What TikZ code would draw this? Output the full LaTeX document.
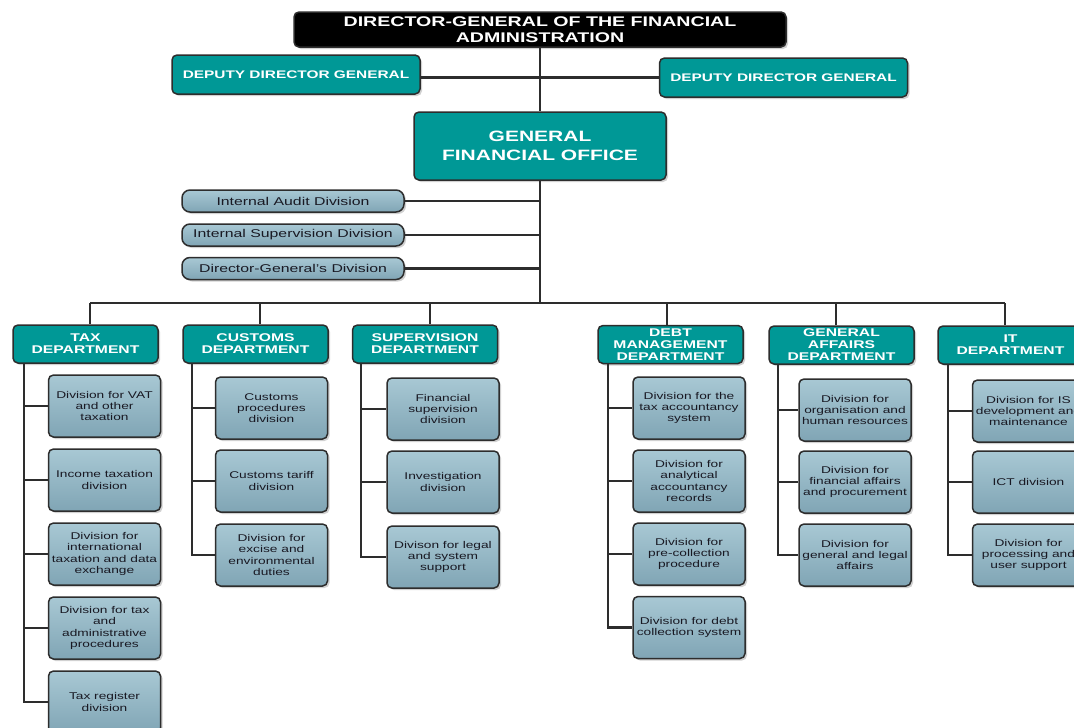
\documentclass[tikz,border=0pt]{standalone}
\usepackage{fontspec}
\setmainfont{Liberation Sans}[FakeStretch=1.4]
\usetikzlibrary{shadows}
\definecolor{tealC}{RGB}{0,152,150}
\definecolor{lineC}{RGB}{45,45,45}
\definecolor{edgeC}{RGB}{45,45,45}
\definecolor{divTop}{RGB}{168,200,212}
\definecolor{divBot}{RGB}{128,165,181}
\definecolor{txtC}{RGB}{25,25,35}
\begin{document}
\begin{tikzpicture}[x=1pt,y=-1pt,
  box/.style={draw=edgeC, line width=1.5pt, rounded corners=5pt, inner sep=0pt, align=center,
    drop shadow={shadow xshift=2pt, shadow yshift=-2pt, fill=black, opacity=0.18}},
  tealbox/.style={box, fill=tealC, text=white},
  dgbox/.style={box, fill=black, text=white, minimum width=492pt, minimum height=35pt,
    font=\bfseries\fontsize{14}{16}\selectfont},
  depbox/.style={tealbox, minimum width=248pt, minimum height=39pt, font=\bfseries\fontsize{11}{13}\selectfont},
  gfobox/.style={tealbox, minimum width=252pt, minimum height=68pt, font=\bfseries\fontsize{15}{19.5}\selectfont},
  smallbox/.style={box, rounded corners=8pt, top color=divTop, bottom color=divBot, text=txtC,
    minimum width=222pt, minimum height=22pt, font=\fontsize{11.3}{13}\selectfont},
  dept/.style={tealbox, minimum width=145pt, minimum height=38pt, font=\bfseries\fontsize{11.2}{12}\selectfont},
  divbox/.style={box, top color=divTop, bottom color=divBot, text=txtC,
    minimum width=112pt, minimum height=62pt, font=\fontsize{9.8}{11.2}\selectfont},
  conn/.style={draw=lineC, line width=2.2pt}
]
\useasboundingbox (0,0) rectangle (1074,728);
\fill[white] (0,0) rectangle (1074,728);
\clip (0,0) rectangle (1074,728);

% coordinates of the bus
\coordinate (busmid) at (540,303);
\coordinate (b1) at (90,303);
\coordinate (b2) at (260,303);
\coordinate (b3) at (430,303);
\coordinate (b4) at (667,303);
\coordinate (b5) at (836,303);
\coordinate (b6) at (1005,303);

% top nodes
\node[dgbox] (dg) at (540,29.5) {DIRECTOR-GENERAL OF THE FINANCIAL\\ADMINISTRATION};
\node[depbox] (depL) at (296,74.5) {DEPUTY DIRECTOR GENERAL};
\node[depbox] (depR) at (783.5,77.5) {DEPUTY DIRECTOR GENERAL};
\node[gfobox] (gfo) at (540,146) {GENERAL\\FINANCIAL OFFICE};

\node[smallbox] (ia) at (293,201) {Internal Audit Division};
\node[smallbox] (is) at (293,235) {Internal Supervision Division};
\node[smallbox] (dd) at (293,268.5) {Director-General's Division};

% departments
\node[dept] (tax) at (85.5,344) {TAX\\DEPARTMENT};
\node[dept] (cus) at (255.5,344) {CUSTOMS\\DEPARTMENT};
\node[dept] (sup) at (425,344) {SUPERVISION\\DEPARTMENT};
\node[dept] (debt) at (670.5,344.5) {DEBT\\MANAGEMENT\\DEPARTMENT};
\node[dept] (ga) at (841.5,345) {GENERAL\\AFFAIRS\\DEPARTMENT};
\node[dept] (it) at (1010.5,345) {IT\\DEPARTMENT};

% divisions - tax
\node[divbox] (t1) at (104.5,406) {Division for VAT\\and other\\taxation};
\node[divbox] (t2) at (104.5,480) {Income taxation\\division};
\node[divbox] (t3) at (104.5,554) {Division for\\international\\taxation and data\\exchange};
\node[divbox] (t4) at (104.5,628) {Division for tax\\and\\administrative\\procedures};
\node[divbox] (t5) at (104.5,702) {Tax register\\division};
% customs
\node[divbox] (c1) at (271.5,408) {Customs\\procedures\\division};
\node[divbox] (c2) at (271.5,481) {Customs tariff\\division};
\node[divbox] (c3) at (271.5,555) {Division for\\excise and\\environmental\\duties};
% supervision
\node[divbox] (s1) at (443,409) {Financial\\supervision\\division};
\node[divbox] (s2) at (443,482) {Investigation\\division};
\node[divbox] (s3) at (443,557) {Divison for legal\\and system\\support};
% debt
\node[divbox] (d1) at (689,408) {Division for the\\tax accountancy\\system};
\node[divbox] (d2) at (689,481) {Division for\\analytical\\accountancy\\records};
\node[divbox] (d3) at (689,554) {Division for\\pre-collection\\procedure};
\node[divbox] (d4) at (689,627.5) {Division for debt\\collection system};
% general affairs
\node[divbox] (g1) at (855,410) {Division for\\organisation and\\human resources};
\node[divbox] (g2) at (855,482) {Division for\\financial affairs\\and procurement};
\node[divbox] (g3) at (855,555) {Division for\\general and legal\\affairs};
% IT
\node[divbox] (i1) at (1028.5,411) {Division for IS\\development and\\maintenance};
\node[divbox] (i2) at (1028.5,482) {ICT division};
\node[divbox] (i3) at (1028.5,555) {Division for\\processing and\\user support};

% connectors top
\draw[conn] (dg.south) -- (gfo.north);
\draw[conn] (depL.east |- depR.west) -- (depR.west);
\draw[conn] (gfo.south) -- (busmid);
\draw[conn] (ia.east) -- (ia.east -| gfo.south);
\draw[conn] (is.east) -- (is.east -| gfo.south);
\draw[conn] (dd.east) -- (dd.east -| gfo.south);
\draw[conn] (b1) -- (b6);
\draw[conn] (b1) -- (b1 |- tax.north);
\draw[conn] (b2) -- (b2 |- cus.north);
\draw[conn] (b3) -- (b3 |- sup.north);
\draw[conn] (b4) -- (b4 |- debt.north);
\draw[conn] (b5) -- (b5 |- ga.north);
\draw[conn] (b6) -- (b6 |- it.north);

% department trunks
\coordinate (taxK) at ([xshift=12pt]tax.south west);
\coordinate (cusK) at ([xshift=10pt]cus.south west);
\coordinate (supK) at ([xshift=9pt]sup.south west);
\coordinate (debtK) at ([xshift=11pt]debt.south west);
\coordinate (gaK) at ([xshift=10pt]ga.south west);
\coordinate (itK) at ([xshift=11pt]it.south west);

\draw[conn] (taxK) |- (t5.west);
\foreach \n in {t1,t2,t3,t4} \draw[conn] (\n.west -| taxK) -- (\n.west);
\draw[conn] (cusK) |- (c3.west);
\foreach \n in {c1,c2} \draw[conn] (\n.west -| cusK) -- (\n.west);
\draw[conn] (supK) |- (s3.west);
\foreach \n in {s1,s2} \draw[conn] (\n.west -| supK) -- (\n.west);
\draw[conn] (debtK) |- (d4.west);
\foreach \n in {d1,d2,d3} \draw[conn] (\n.west -| debtK) -- (\n.west);
\draw[conn] (gaK) |- (g3.west);
\foreach \n in {g1,g2} \draw[conn] (\n.west -| gaK) -- (\n.west);
\draw[conn] (itK) |- (i3.west);
\foreach \n in {i1,i2} \draw[conn] (\n.west -| itK) -- (\n.west);
\end{tikzpicture}
\end{document}
